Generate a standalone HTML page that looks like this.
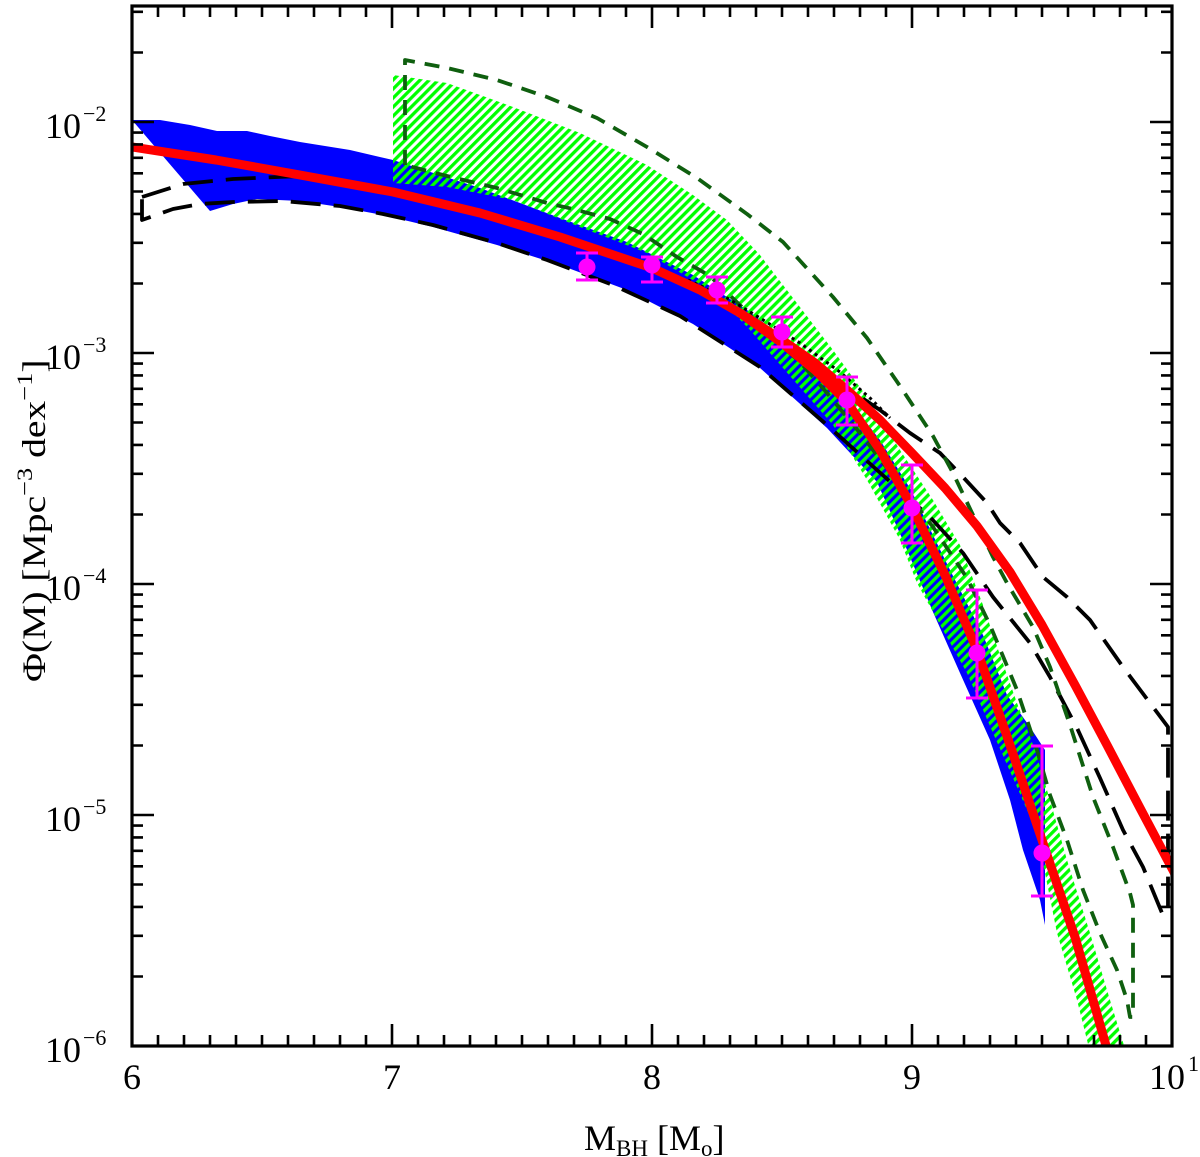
<!DOCTYPE html>
<html>
<head>
<meta charset="utf-8">
<style>
  html,body{margin:0;padding:0;background:#fff;}
  svg{display:block;}
  text{font-family:"Liberation Serif","DejaVu Serif",serif;fill:#000;}
</style>
</head>
<body>
<svg width="1200" height="1157" viewBox="0 0 1200 1157" xmlns="http://www.w3.org/2000/svg">
  <defs>
    <clipPath id="c"><rect x="132" y="6" width="1040" height="1040"/></clipPath>
    <pattern id="h" patternUnits="userSpaceOnUse" width="6.4" height="12" patternTransform="rotate(45)">
      <rect x="0" y="0" width="3.3" height="12" fill="#00ff00"/>
    </pattern>
  </defs>
  <rect width="1200" height="1157" fill="#fff"/>

  <g clip-path="url(#c)">
    <!-- blue band -->
    <polygon fill="#0000ff" points="132,120 160,120 190,125 217,131 247,131 270,136 300,142 350,150 393,160 480,188 560,218 627,242 693,275 747,310 800,350 847,398 880,440 911,490 950,570 983,635 1007,695 1030,727 1045,750 1045,925 1040,900 1023,850 1010,800 990,740 960,673 933,612 905,545 877,482 827,428 760,368 693,324 627,290 560,265 497,245 433,227 383,215 340,207 300,201 257,199 233,204 210,211"/>

    <!-- green hatched band -->
    <polygon fill="url(#h)" points="393,75 447,83 513,107 580,133 647,165 693,195 727,220 760,255 793,298 833,350 867,397 900,450 933,500 960,545 983,605 1000,655 1017,703 1035,750 1050,800 1067,860 1090,933 1110,1000 1126,1052 1090,1052 1077,1000 1057,933 1047,883 1037,833 1017,787 993,733 967,673 933,612 917,583 900,540 867,480 833,425 783,368 750,330 713,292 647,253 580,227 513,200 447,187 393,183"/>

    <!-- black long-dashed outline -->
    <path fill="none" stroke="#000" stroke-width="3.8" stroke-dasharray="30 13" stroke-linejoin="round"
      d="M142,197 L183,184 233,179 300,176 393,190 480,211 560,236 652,267 740,313 800,352 850,390 880,410 910,433 940,453 963,477 987,503 1000,523 1020,543 1043,577 1067,597 1090,620 1123,667 1150,703 1168,727 L1168,913 L1162,913 1143,867 1123,830 1100,778 1077,728 1050,677 1030,643 993,597 963,553 930,517 877,470 827,425 760,367 680,316 613,285 547,260 497,243 433,225 383,214 340,206 283,201 233,202 200,204 173,209 142,220 Z"/>

    <!-- dark green dashed outline -->
    <path fill="none" stroke="#0f5f0f" stroke-width="3.8" stroke-dasharray="15 10" stroke-linejoin="round"
      d="M405,165 L405,60 447,68 497,80 547,97 597,118 647,147 697,178 747,214 783,242 833,297 867,338 900,386 933,436 953,473 973,515 993,557 1007,583 1033,627 1050,667 1070,725 1093,797 1113,847 1130,893 1133,905 L1133,1017 L1130,1017 1127,1000 1117,970 1100,933 1083,890 1067,840 1050,795 1037,750 1017,690 990,625 967,578 933,527 910,497 883,463 860,433 827,393 800,362 767,333 747,312 710,276 677,257 643,234 610,219 573,209 547,203 497,188 447,176 Z"/>

    <!-- black dotted -->
    <path fill="none" stroke="#000" stroke-width="3" stroke-dasharray="3 4"
      d="M688,280 L727,298 760,318 800,343 840,372 870,398 890,418"/>

    <!-- red curves -->
    <path fill="none" stroke="#ff0000" stroke-width="9" stroke-linejoin="round"
      d="M128,146 L132,147 216,160 300,175 393,192 480,213 560,237 652,268 700,290 740,313 782,343 815,370 847,402 880,450 911,505 945,575 977,650 1010,745 1042,840 1075,937 1109,1056"/>
    <path fill="none" stroke="#ff0000" stroke-width="9" stroke-linejoin="round"
      d="M740,313 L782,340 815,363 847,390 880,420 911,452 945,488 977,526 1010,572 1042,625 1075,685 1107,745 1140,808 1176,876"/>
  </g>

  <!-- magenta data points -->
  <g stroke="#ff00ff" stroke-width="3" fill="#ff00ff">
    <path fill="none" d="
      M587,253V280 M576,253H598 M576,280H598
      M652,257V282 M641,257H663 M641,282H663
      M717,277V303 M706,277H728 M706,303H728
      M782,317V347 M771,317H793 M771,347H793
      M847,377V425 M836,377H858 M836,425H858
      M912,465V543 M901,465H923 M901,543H923
      M977,590V698 M966,590H988 M966,698H988
      M1042,746V896 M1031,746H1053 M1031,896H1053"/>
    <g stroke="none">
      <circle cx="587" cy="267" r="8.5"/>
      <circle cx="652" cy="265" r="8.5"/>
      <circle cx="717" cy="290" r="8.5"/>
      <circle cx="782" cy="332" r="8.5"/>
      <circle cx="847" cy="400" r="8.5"/>
      <circle cx="912" cy="508" r="8.5"/>
      <circle cx="977" cy="653" r="8.5"/>
      <circle cx="1042" cy="853" r="8.5"/>
    </g>
  </g>

  <!-- frame -->
  <rect x="132" y="6" width="1040" height="1040" fill="none" stroke="#000" stroke-width="3.2"/>

  <!-- ticks -->
  <path fill="none" stroke="#000" stroke-width="2.6" d="
    M158,1046v-11M184,1046v-11M210,1046v-11M236,1046v-11M262,1046v-11M288,1046v-11M314,1046v-11M340,1046v-11M366,1046v-11
    M418,1046v-11M444,1046v-11M470,1046v-11M496,1046v-11M522,1046v-11M548,1046v-11M574,1046v-11M600,1046v-11M626,1046v-11
    M678,1046v-11M704,1046v-11M730,1046v-11M756,1046v-11M782,1046v-11M808,1046v-11M834,1046v-11M860,1046v-11M886,1046v-11
    M938,1046v-11M964,1046v-11M990,1046v-11M1016,1046v-11M1042,1046v-11M1068,1046v-11M1094,1046v-11M1120,1046v-11M1146,1046v-11
    M392,1046v-22M652,1046v-22M912,1046v-22
    M158,6v11M184,6v11M210,6v11M236,6v11M262,6v11M288,6v11M314,6v11M340,6v11M366,6v11
    M418,6v11M444,6v11M470,6v11M496,6v11M522,6v11M548,6v11M574,6v11M600,6v11M626,6v11
    M678,6v11M704,6v11M730,6v11M756,6v11M782,6v11M808,6v11M834,6v11M860,6v11M886,6v11
    M938,6v11M964,6v11M990,6v11M1016,6v11M1042,6v11M1068,6v11M1094,6v11M1120,6v11M1146,6v11
    M392,6v22M652,6v22M912,6v22
    M132,976.5h11M132,935.8h11M132,906.9h11M132,884.5h11M132,866.3h11M132,850.8h11M132,837.4h11M132,825.6h11
    M132,745.5h11M132,704.8h11M132,675.9h11M132,653.5h11M132,635.3h11M132,619.8h11M132,606.4h11M132,594.6h11
    M132,514.5h11M132,473.8h11M132,444.9h11M132,422.5h11M132,404.3h11M132,388.8h11M132,375.4h11M132,363.6h11
    M132,283.5h11M132,242.8h11M132,213.9h11M132,191.5h11M132,173.3h11M132,157.8h11M132,144.4h11M132,132.6h11
    M132,52.5h11M132,11.8h11
    M132,122h22M132,353h22M132,584h22M132,815h22
    M1172,976.5h-11M1172,935.8h-11M1172,906.9h-11M1172,884.5h-11M1172,866.3h-11M1172,850.8h-11M1172,837.4h-11M1172,825.6h-11
    M1172,745.5h-11M1172,704.8h-11M1172,675.9h-11M1172,653.5h-11M1172,635.3h-11M1172,619.8h-11M1172,606.4h-11M1172,594.6h-11
    M1172,514.5h-11M1172,473.8h-11M1172,444.9h-11M1172,422.5h-11M1172,404.3h-11M1172,388.8h-11M1172,375.4h-11M1172,363.6h-11
    M1172,283.5h-11M1172,242.8h-11M1172,213.9h-11M1172,191.5h-11M1172,173.3h-11M1172,157.8h-11M1172,144.4h-11M1172,132.6h-11
    M1172,52.5h-11M1172,11.8h-11
    M1172,122h-22M1172,353h-22M1172,584h-22M1172,815h-22"/>

  <!-- x tick labels -->
  <g font-size="36" text-anchor="middle">
    <text x="132" y="1089">6</text>
    <text x="392" y="1089">7</text>
    <text x="652" y="1089">8</text>
    <text x="912" y="1089">9</text>
    <text x="1167" y="1089">10</text>
  </g>
  <text x="1188" y="1071" font-size="22">1</text>

  <!-- y tick labels -->
  <g font-size="36" text-anchor="end">
    <text x="81" y="138">10</text>
    <text x="81" y="369">10</text>
    <text x="81" y="600">10</text>
    <text x="81" y="831">10</text>
    <text x="81" y="1062">10</text>
  </g>
  <g font-size="22">
    <text x="83" y="121">−2</text>
    <text x="83" y="352">−3</text>
    <text x="83" y="583">−4</text>
    <text x="83" y="814">−5</text>
    <text x="83" y="1045">−6</text>
  </g>

  <!-- axis labels -->
  <text x="584" y="1150" font-size="36">M<tspan font-size="23" dy="6">BH</tspan><tspan dy="-6"> [M</tspan><tspan font-size="23" dy="6">o</tspan><tspan dy="-6">]</tspan></text>

  <text transform="translate(45,682) rotate(-90) scale(1.2,1)" font-size="33">Φ(M) [Mpc<tspan font-size="22" dy="-13">−3</tspan><tspan dy="13"> dex</tspan><tspan font-size="22" dy="-13">−1</tspan><tspan dy="13">]</tspan></text>
</svg>
</body>
</html>
